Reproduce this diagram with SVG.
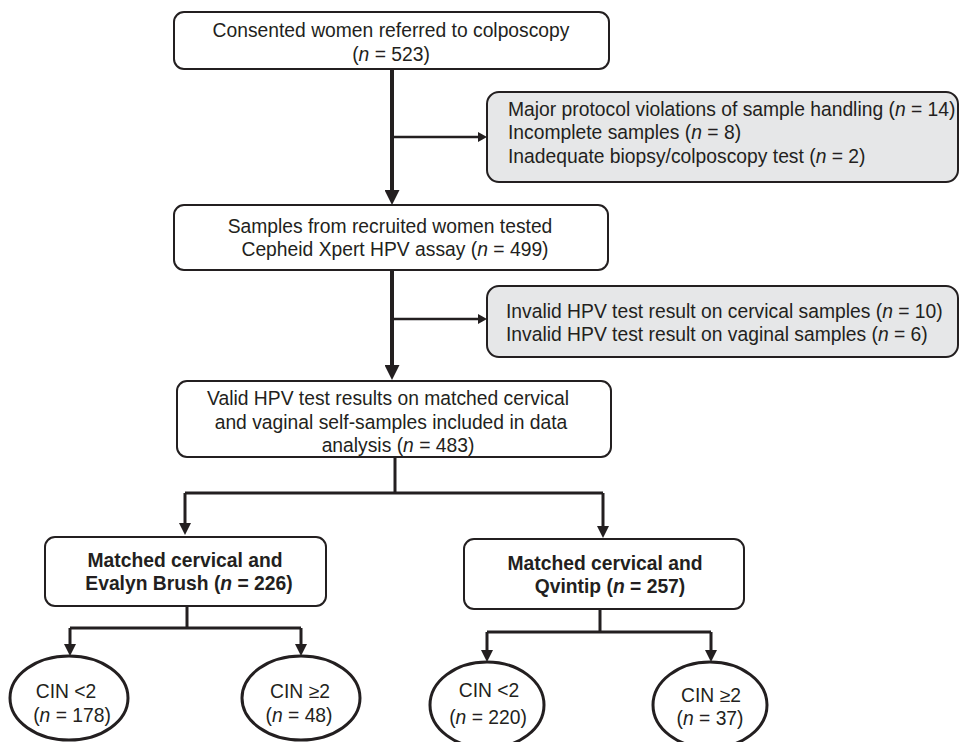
<svg xmlns="http://www.w3.org/2000/svg" width="960" height="742" viewBox="0 0 960 742">
<style>
text{font-family:"Liberation Sans",Arial,sans-serif;font-size:19.3px;fill:#231f20}
.c{text-anchor:middle}
.b{font-weight:bold}
.box{fill:#fff;stroke:#231f20;stroke-width:2}
.gray{fill:#e6e7e8;stroke:#231f20;stroke-width:2}
.ell{fill:#fff;stroke:#231f20;stroke-width:3}
.ln{fill:none;stroke:#231f20;stroke-width:3}
.main{fill:none;stroke:#231f20;stroke-width:4}
.side{fill:none;stroke:#231f20;stroke-width:2.5}
</style>
<defs>
<marker id="big" viewBox="0 0 15 15" refX="0" refY="7.5" markerWidth="15" markerHeight="15" markerUnits="userSpaceOnUse" orient="auto"><path d="M0,0 L15,7.5 L0,15 z" fill="#231f20"/></marker>
<marker id="mid" viewBox="0 0 12 12" refX="0" refY="6" markerWidth="12" markerHeight="12" markerUnits="userSpaceOnUse" orient="auto"><path d="M0,0 L12,6 L0,12 z" fill="#231f20"/></marker>
<marker id="sm" viewBox="0 0 9 10" refX="0" refY="5" markerWidth="9" markerHeight="10" markerUnits="userSpaceOnUse" orient="auto"><path d="M0,0 L9,5 L0,10 z" fill="#231f20"/></marker>
</defs>

<g id="connectors">
<path class="main" d="M392,69 V190" marker-end="url(#big)"/>
<path class="side" d="M392,137 H478" marker-end="url(#sm)"/>
<path class="main" d="M392,270 V365" marker-end="url(#big)"/>
<path class="side" d="M392,319 H478" marker-end="url(#sm)"/>
<path class="ln" d="M395,457 V493"/>
<path class="ln" d="M185,493 H603"/>
<path class="ln" d="M185,493 V523" marker-end="url(#mid)"/>
<path class="ln" d="M603,493 V526" marker-end="url(#mid)"/>
<path class="ln" d="M187,606 V628"/>
<path class="ln" d="M70,628 H301"/>
<path class="ln" d="M70,628 V644" marker-end="url(#mid)"/>
<path class="ln" d="M301,628 V644" marker-end="url(#mid)"/>
<path class="ln" d="M600,609 V632"/>
<path class="ln" d="M487,632 H711"/>
<path class="ln" d="M487,632 V650" marker-end="url(#mid)"/>
<path class="ln" d="M711,632 V650" marker-end="url(#mid)"/>
</g>

<g id="consented">
<rect class="box" x="174" y="12" width="435" height="57" rx="10"/>
<text class="c" x="391" y="37">Consented women referred to colposcopy</text>
<text class="c" x="391" y="61">(<tspan font-style="italic">n</tspan> = 523)</text>
</g>

<g id="excluded1">
<rect class="gray" x="487" y="92" width="471" height="90" rx="12"/>
<text x="508" y="116">Major protocol violations of sample handling (<tspan font-style="italic">n</tspan> = 14)</text>
<text x="508" y="139">Incomplete samples (<tspan font-style="italic">n</tspan> = 8)</text>
<text x="508" y="163">Inadequate biopsy/colposcopy test (<tspan font-style="italic">n</tspan> = 2)</text>
</g>

<g id="tested">
<rect class="box" x="174" y="205" width="434" height="65" rx="10"/>
<text class="c" x="390" y="233">Samples from recruited women tested</text>
<text class="c" x="395" y="256">Cepheid Xpert HPV assay (<tspan font-style="italic">n</tspan> = 499)</text>
</g>

<g id="excluded2">
<rect class="gray" x="487" y="286" width="471" height="71" rx="12"/>
<text x="506" y="318">Invalid HPV test result on cervical samples (<tspan font-style="italic">n</tspan> = 10)</text>
<text x="506" y="341">Invalid HPV test result on vaginal samples (<tspan font-style="italic">n</tspan> = 6)</text>
</g>

<g id="valid">
<rect class="box" x="177" y="381" width="434" height="76" rx="10"/>
<text class="c" x="388" y="405">Valid HPV test results on matched cervical</text>
<text class="c" x="391" y="429">and vaginal self-samples included in data</text>
<text class="c" x="398" y="452">analysis (<tspan font-style="italic">n</tspan> = 483)</text>
</g>

<g id="evalyn">
<rect class="box" x="45" y="537" width="281" height="69" rx="10"/>
<text class="c b" x="185" y="567">Matched cervical and</text>
<text class="c b" x="189" y="590">Evalyn Brush (<tspan font-style="italic">n</tspan> = 226)</text>
</g>

<g id="qvintip">
<rect class="box" x="464" y="539" width="280" height="70" rx="10"/>
<text class="c b" x="605" y="570">Matched cervical and</text>
<text class="c b" x="610" y="593">Qvintip (<tspan font-style="italic">n</tspan> = 257)</text>
</g>

<g id="evalyn-cin-lt2">
<ellipse class="ell" cx="69" cy="698" rx="59" ry="42"/>
<text class="c" x="66" y="698">CIN &lt;2</text>
<text class="c" x="72" y="722">(<tspan font-style="italic">n</tspan> = 178)</text>
</g>

<g id="evalyn-cin-ge2">
<ellipse class="ell" cx="301" cy="698" rx="59" ry="42"/>
<text class="c" x="300" y="698">CIN ≥2</text>
<text class="c" x="299" y="722">(<tspan font-style="italic">n</tspan> = 48)</text>
</g>

<g id="qvintip-cin-lt2">
<ellipse class="ell" cx="487" cy="705" rx="57" ry="43"/>
<text class="c" x="489" y="697">CIN &lt;2</text>
<text class="c" x="488" y="724">(<tspan font-style="italic">n</tspan> = 220)</text>
</g>

<g id="qvintip-cin-ge2">
<ellipse class="ell" cx="710" cy="705" rx="57" ry="43"/>
<text class="c" x="711" y="702">CIN ≥2</text>
<text class="c" x="710" y="725">(<tspan font-style="italic">n</tspan> = 37)</text>
</g>
</svg>
